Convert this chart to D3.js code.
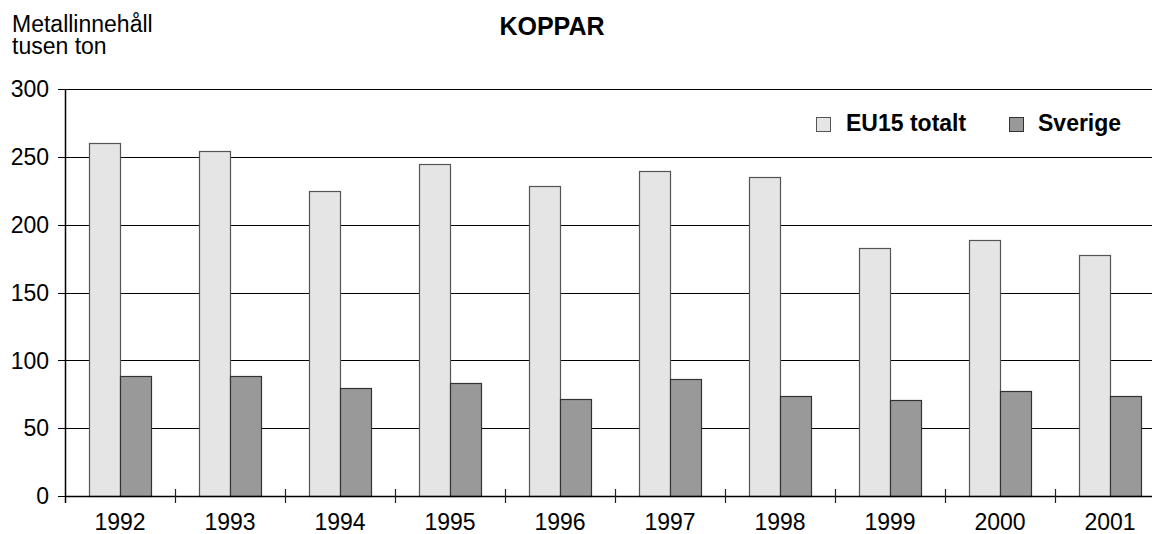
<!DOCTYPE html>
<html lang="sv">
    <head>
        <meta charset="utf-8">
        <title>KOPPAR</title>
        <script type="text/javascript" src="https://cdn.jsdelivr.net/npm/d3@7"></script>
        <style type="text/css">
           body { margin: 0; background: #fff; }
           text {
               font-family: "Liberation Sans", Arial, sans-serif;
               font-size: 23px;
               fill: black;
           }
           .bold { font-weight: bold; }
        </style>
    </head>
    <body>
        <script type="text/javascript">

              var w = 1152;
              var h = 534;

              var years   = ["1992", "1993", "1994", "1995", "1996", "1997", "1998", "1999", "2000", "2001"];
              var eu15    = [260, 254, 224.5, 245, 228.5, 239.5, 235, 182.5, 188.5, 178];
              var sverige = [88.7, 88.5, 79.6, 83.5, 71.3, 86.5, 73.5, 71, 77.6, 74];
              var series  = ["EU15 totalt", "Sverige"];
              var yTicks  = [0, 50, 100, 150, 200, 250, 300];

              var fills   = ["#e5e5e5", "#999999"];
              var strokes = ["#555555", "#333333"];

              var plotLeft = 65, plotTop = 89, plotBottom = 496;

              var x0 = d3.scaleBand()
                         .domain(years)
                         .range([plotLeft, plotLeft + 110 * years.length])
                         .padding(0);

              var x1 = d3.scaleBand()
                         .domain(series)
                         .range([0, x0.bandwidth()])
                         .paddingInner(0)
                         .paddingOuter(0.77);

              var y = d3.scaleLinear()
                        .domain([0, 300])
                        .range([plotBottom, plotTop]);

              var svg = d3.select("body")
                          .append("svg")
                          .attr("width", w)
                          .attr("height", h);

              // gridlines
              svg.selectAll("line.grid")
                 .data(yTicks.slice(1))
                 .enter()
                 .append("line")
                 .attr("class", "grid")
                 .attr("x1", plotLeft)
                 .attr("x2", w)
                 .attr("y1", function(d) { return Math.round(y(d)) + 0.5; })
                 .attr("y2", function(d) { return Math.round(y(d)) + 0.5; })
                 .attr("stroke", "black")
                 .attr("stroke-width", 1);

              // bars
              var groups = svg.selectAll("g.year")
                              .data(years)
                              .enter()
                              .append("g")
                              .attr("class", "year")
                              .attr("transform", function(d) { return "translate(" + x0(d) + ",0)"; });

              groups.selectAll("rect")
                    .data(function(d, i) {
                        return [
                            { s: 0, key: series[0], value: eu15[i] },
                            { s: 1, key: series[1], value: sverige[i] }
                        ];
                    })
                    .enter()
                    .append("rect")
                    .attr("x", function(d) { return Math.round(x1(d.key)) + 0.5; })
                    .attr("y", function(d) { return Math.round(y(d.value)) + 0.5; })
                    .attr("width", function(d) { return Math.round(x1.bandwidth()); })
                    .attr("height", function(d) { return plotBottom - Math.round(y(d.value)); })
                    .attr("fill", function(d) { return fills[d.s]; })
                    .attr("stroke", function(d) { return strokes[d.s]; })
                    .attr("stroke-width", 1.2);

              // x axis line and category ticks
              svg.append("line")
                 .attr("x1", plotLeft).attr("x2", w)
                 .attr("y1", plotBottom + 0.5).attr("y2", plotBottom + 0.5)
                 .attr("stroke", "black").attr("stroke-width", 1.5);

              svg.selectAll("line.xtick")
                 .data(years.slice(1))
                 .enter()
                 .append("line")
                 .attr("class", "xtick")
                 .attr("x1", function(d) { return Math.round(x0(d)) + 0.5; })
                 .attr("x2", function(d) { return Math.round(x0(d)) + 0.5; })
                 .attr("y1", plotBottom - 7)
                 .attr("y2", plotBottom + 7)
                 .attr("stroke", "#222").attr("stroke-width", 1.2);

              svg.selectAll("text.xlabel")
                 .data(years)
                 .enter()
                 .append("text")
                 .attr("class", "xlabel")
                 .attr("x", function(d) { return x0(d) + x0.bandwidth() / 2; })
                 .attr("y", 530)
                 .attr("text-anchor", "middle")
                 .text(function(d) { return d; });

              // y axis
              svg.append("line")
                 .attr("x1", plotLeft + 0.5).attr("x2", plotLeft + 0.5)
                 .attr("y1", plotTop).attr("y2", plotBottom + 7)
                 .attr("stroke", "black").attr("stroke-width", 1.5);

              svg.selectAll("line.ytick")
                 .data(yTicks)
                 .enter()
                 .append("line")
                 .attr("class", "ytick")
                 .attr("x1", plotLeft - 7).attr("x2", plotLeft)
                 .attr("y1", function(d) { return Math.round(y(d)) + 0.5; })
                 .attr("y2", function(d) { return Math.round(y(d)) + 0.5; })
                 .attr("stroke", "black").attr("stroke-width", 1);

              svg.selectAll("text.ylabel")
                 .data(yTicks)
                 .enter()
                 .append("text")
                 .attr("class", "ylabel")
                 .attr("x", 49)
                 .attr("y", function(d) { return y(d); })
                 .attr("dy", "0.36em")
                 .attr("text-anchor", "end")
                 .text(function(d) { return d; });

              // titles
              svg.append("text").attr("x", 12).attr("y", 32).text("Metallinnehåll");
              svg.append("text").attr("x", 12).attr("y", 54).text("tusen ton");
              svg.append("text")
                 .attr("class", "bold")
                 .attr("x", 552).attr("y", 35)
                 .attr("text-anchor", "middle")
                 .style("font-size", "25px")
                 .text("KOPPAR");

              // legend
              var legendX = [816, 1009];
              var legend = svg.selectAll("g.legend")
                              .data(series)
                              .enter()
                              .append("g")
                              .attr("class", "legend")
                              .attr("transform", function(d, i) { return "translate(" + legendX[i] + ",117)"; });

              legend.append("rect")
                    .attr("x", 0.5).attr("y", 0.5)
                    .attr("width", 14).attr("height", 14)
                    .attr("fill", function(d, i) { return fills[i]; })
                    .attr("stroke", function(d, i) { return strokes[i]; });

              legend.append("text")
                    .attr("class", "bold")
                    .attr("x", function(d, i) { return i === 0 ? 30 : 29; })
                    .attr("y", 14)
                    .text(function(d) { return d; });

        </script>
    </body>
</html>
